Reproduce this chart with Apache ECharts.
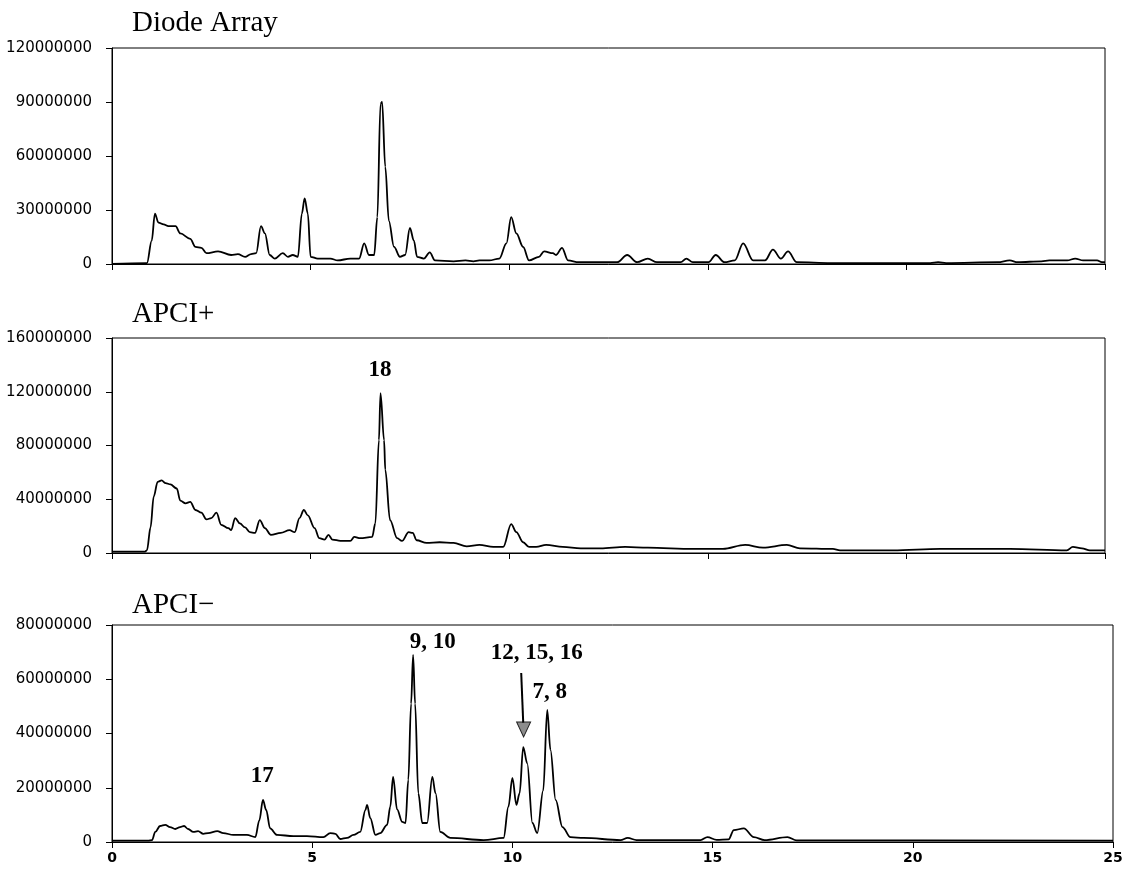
<!DOCTYPE html>
<html>
<head>
<meta charset="utf-8">
<title>Chromatograms</title>
<script src="https://cdn.jsdelivr.net/npm/echarts@6/dist/echarts.min.js"></script>
<style>
  html, body { margin: 0; padding: 0; background: #fff; }
  #chart { width: 1133px; height: 876px; }
</style>
</head>
<body>
<div id="chart"></div>
<script>
// retention time (min) vs signal, signal in millions
var diodeArray = [
  [0, 0], [0.88, 0.5], [1.0, 13], [1.08, 28], [1.17, 23], [1.3, 22], [1.42, 21], [1.6, 21],
  [1.72, 17], [1.97, 14], [2.1, 9.5], [2.25, 9], [2.38, 6], [2.67, 7], [3.0, 5], [3.17, 5.5],
  [3.35, 4], [3.5, 5.5], [3.63, 6], [3.75, 21], [3.85, 17], [3.97, 5], [4.1, 3], [4.3, 6],
  [4.43, 4], [4.55, 5], [4.68, 4], [4.78, 28], [4.85, 36.5], [4.93, 28], [5.0, 4], [5.18, 3],
  [5.5, 3], [5.68, 2], [6.0, 3], [6.22, 3], [6.35, 11.5], [6.47, 5], [6.6, 5], [6.68, 26],
  [6.76, 89], [6.8, 90], [6.88, 54], [6.97, 24], [7.1, 9.5], [7.25, 4], [7.38, 5], [7.5, 20],
  [7.6, 13], [7.68, 4], [7.85, 3], [8.0, 6.5], [8.13, 2], [8.6, 1.5], [8.9, 2], [9.1, 1.5],
  [9.25, 2], [9.5, 2], [9.75, 3], [9.93, 11.5], [10.05, 26], [10.18, 17], [10.35, 9.5],
  [10.5, 2], [10.75, 4], [10.88, 7], [11.1, 6], [11.18, 5], [11.33, 9], [11.48, 2], [11.75, 1],
  [12.72, 1], [12.97, 5], [13.22, 1], [13.49, 3], [13.72, 1], [14.32, 1], [14.46, 3], [14.62, 1],
  [15.02, 1], [15.2, 5], [15.42, 1], [15.68, 2], [15.89, 11.5], [16.14, 2], [16.44, 2],
  [16.64, 8], [16.84, 3], [17.02, 7], [17.24, 1], [18.1, 0.5], [20.6, 0.5], [20.8, 1], [21.0, 0.5],
  [22.3, 1], [22.6, 2], [22.8, 1], [23.4, 1.5], [23.6, 2], [24.05, 2], [24.25, 3], [24.45, 2],
  [24.8, 2], [24.92, 1], [25, 1]
];

var apciPos = [
  [0, 1], [0.83, 1], [0.88, 2], [0.97, 19], [1.05, 42], [1.15, 53], [1.25, 54], [1.35, 52],
  [1.47, 51], [1.63, 48], [1.72, 39], [1.85, 37], [1.97, 38], [2.1, 32], [2.25, 30], [2.38, 25],
  [2.5, 26], [2.63, 30], [2.75, 21], [2.93, 18.5], [3.0, 17], [3.1, 26], [3.22, 22], [3.35, 19],
  [3.47, 15.5], [3.6, 15], [3.72, 24.5], [3.85, 18.5], [4.0, 13.5], [4.25, 15], [4.47, 17],
  [4.6, 15.5], [4.72, 26], [4.83, 32], [4.93, 28], [5.1, 18.5], [5.22, 11], [5.35, 10],
  [5.45, 13.5], [5.55, 10], [5.75, 9], [6.0, 9], [6.1, 12], [6.25, 11], [6.55, 12], [6.63, 22],
  [6.72, 84], [6.76, 119], [6.85, 84], [6.88, 62], [7.0, 24.5], [7.18, 11], [7.3, 9],
  [7.47, 15.5], [7.57, 15], [7.67, 9.5], [7.92, 7.5], [8.25, 8], [8.6, 7.5], [8.93, 5],
  [9.25, 6], [9.6, 4.5], [9.85, 4.5], [10.05, 21.5], [10.18, 15.5], [10.35, 8], [10.5, 4.5],
  [10.68, 4.5], [10.93, 6], [11.35, 4.5], [11.8, 3.5], [12.3, 3.5], [12.92, 4.5], [13.49, 4],
  [14.63, 3], [15.38, 3], [15.94, 6], [16.39, 4], [16.99, 6], [17.32, 3.5], [18.15, 3], [18.33, 2],
  [19.66, 2], [20.85, 3], [22.61, 3], [24.04, 2], [24.19, 4.5], [24.42, 3.5], [24.62, 2], [25, 2]
];

var apciNeg = [
  [0, 0.5], [0.9, 0.5], [1.0, 0.7], [1.08, 3.7], [1.2, 5.9], [1.33, 6.3], [1.45, 5.5],
  [1.58, 4.8], [1.7, 5.5], [1.8, 5.9], [1.9, 4.8], [2.03, 3.7], [2.15, 4], [2.28, 3], [2.4, 3.3],
  [2.63, 4], [2.78, 3.3], [3.03, 2.6], [3.37, 2.6], [3.58, 1.8], [3.68, 8], [3.77, 15.5],
  [3.85, 11.8], [3.95, 5], [4.12, 2.6], [4.53, 2.2], [4.87, 2.2], [5.28, 1.8], [5.45, 3.3],
  [5.58, 3], [5.7, 1.1], [5.87, 1.5], [6.03, 2.6], [6.2, 3.7], [6.33, 11.8], [6.37, 13.7],
  [6.45, 8.8], [6.58, 2.6], [6.7, 3.3], [6.87, 6.3], [6.95, 13], [7.02, 24], [7.12, 12],
  [7.25, 7.4], [7.33, 7], [7.4, 22.9], [7.47, 51], [7.52, 69], [7.57, 51], [7.65, 18],
  [7.75, 7], [7.87, 7], [8.0, 24], [8.08, 18], [8.2, 3.7], [8.45, 1.5], [9.28, 0.7], [9.78, 1.5],
  [9.9, 13], [10.0, 23.6], [10.1, 13.7], [10.18, 18], [10.27, 35], [10.37, 29], [10.5, 7],
  [10.62, 3.3], [10.77, 19], [10.87, 48.7], [10.95, 34], [11.08, 15.5], [11.25, 5.5],
  [11.45, 1.8], [11.78, 1.5], [12.7, 0.7], [12.88, 1.5], [13.1, 0.7], [14.7, 0.7], [14.87, 1.8],
  [15.1, 0.8], [15.4, 1], [15.53, 4.4], [15.78, 5], [16.03, 1.8], [16.3, 0.7], [16.87, 1.8],
  [17.1, 0.6], [25, 0.5]
];

var panelTitles = ["Diode Array", "APCI+", "APCI\u2212"];
var yMax = [120, 160, 80];
var yStep = [30, 40, 20];

// peak labels: [retention time, signal (millions), text]
var apciPosLabels = [[6.75, 136, "18"]];
var apciNegLabels = [
  [3.75, 24.3, "17"], [8.01, 73.7, "9, 10"], [10.61, 69.7, "12, 15, 16"], [10.93, 55.3, "7, 8"]
];
var arrowShaft = [[10.22, 62.3], [10.27, 44]];
var arrowHead = [[10.28, 41.5]];

var chart = echarts.init(document.getElementById("chart"));

var grids = [
  { left: 112, top: 48, width: 993, height: 216 },
  { left: 112, top: 338, width: 993, height: 215 },
  { left: 112, top: 625, width: 1001, height: 217 }
];
var titleTops = [9, 300, 591];

var xAxes = [], yAxes = [], titles = [];
grids.forEach(function (g, i) {
  g.show = true;
  g.borderColor = "#000";
  g.borderWidth = 1;
  g.containLabel = false;
  titles.push({
    text: panelTitles[i],
    left: 132,
    top: titleTops[i],
    padding: 0,
    textStyle: { fontFamily: "Liberation Serif", fontSize: 29, fontWeight: "normal", color: "#000" }
  });
  xAxes.push({
    type: "value",
    gridIndex: i,
    min: 0,
    max: 25,
    interval: 5,
    axisLine: { show: true, onZero: false, lineStyle: { color: "#000", width: 1 } },
    axisTick: { show: true, length: 6, lineStyle: { color: "#000" } },
    axisLabel: {
      show: i === 2,
      margin: 9,
      color: "#000",
      fontFamily: "DejaVu Sans",
      fontWeight: "bold",
      fontSize: 14
    },
    splitLine: { show: false }
  });
  yAxes.push({
    type: "value",
    gridIndex: i,
    min: 0,
    max: yMax[i],
    interval: yStep[i],
    axisLine: { show: true, lineStyle: { color: "#000", width: 1 } },
    axisTick: { show: true, length: 6, lineStyle: { color: "#000" } },
    axisLabel: {
      margin: 20,
      color: "#000",
      fontFamily: "DejaVu Sans",
      fontSize: 15,
      formatter: function (v) { return String(Math.round(v * 1000000)); }
    },
    splitLine: { show: false }
  });
});

function trace(data, i) {
  return {
    type: "line",
    xAxisIndex: i,
    yAxisIndex: i,
    data: data,
    showSymbol: false,
    symbol: "none",
    smooth: 0.35,
    smoothMonotone: "x",
    lineStyle: { color: "#000", width: 1.8 },
    silent: true
  };
}

function labels(data, i) {
  return {
    type: "scatter",
    xAxisIndex: i,
    yAxisIndex: i,
    symbol: "circle",
    symbolSize: 0,
    itemStyle: { color: "#000" },
    data: data.map(function (d) { return { value: [d[0], d[1]], name: d[2] }; }),
    label: {
      show: true,
      position: "inside",
      formatter: "{b}",
      color: "#000",
      opacity: 1,
      textBorderWidth: 0,
      fontFamily: "Liberation Serif",
      fontWeight: "bold",
      fontSize: 23
    },
    silent: true
  };
}

var negTrace = trace(apciNeg, 2);
negTrace.markLine = {
  silent: true,
  symbol: ["none", "none"],
  label: { show: false },
  lineStyle: { color: "#000", width: 2, type: "solid" },
  data: [[{ coord: arrowShaft[0] }, { coord: arrowShaft[1] }]]
};

chart.setOption({
  animation: false,
  backgroundColor: "#fff",
  title: titles,
  grid: grids,
  xAxis: xAxes,
  yAxis: yAxes,
  series: [
    trace(diodeArray, 0),
    trace(apciPos, 1),
    negTrace,
    labels(apciPosLabels, 1),
    labels(apciNegLabels, 2),
    {
      type: "scatter",
      xAxisIndex: 2,
      yAxisIndex: 2,
      symbol: "triangle",
      symbolRotate: 180,
      symbolSize: [14, 15],
      itemStyle: { color: "#8c8c8c", borderColor: "#222", borderWidth: 1, opacity: 1 },
      data: arrowHead,
      silent: true
    }
  ]
});
</script>
</body>
</html>
